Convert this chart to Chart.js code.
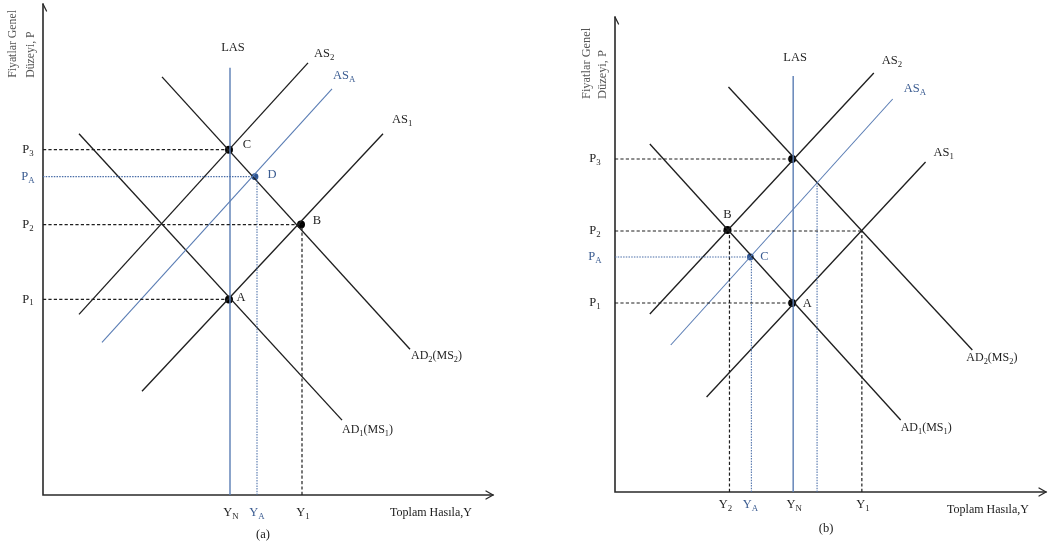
<!DOCTYPE html>
<html><head><meta charset="utf-8">
<script src="https://cdn.jsdelivr.net/npm/chart.js"></script>
<style>
html,body{margin:0;padding:0;background:#fff;}
#wrap{position:relative;width:1050px;height:546px;overflow:hidden;background:#fff;}
.pane{position:absolute;top:0;height:546px;}
</style></head><body>
<div id="wrap">
<div class="pane" style="left:0;width:520px"><canvas id="ca" width="520" height="546"></canvas></div>
<div class="pane" style="left:520px;width:530px"><canvas id="cb" width="530" height="546"></canvas></div>
</div>
<script>
// ================= DATA : panel (a) =================
const aAxisMax = [450, 492];              // extent of Y axis (x) and P axis (y)
const aLAS = [[187, 0], [187, 428]];
const aAS2 = [[36, 181], [265, 433]];
const aASA = [[59, 153], [289, 407]];
const aAS1 = [[99, 104], [340, 362]];
const aAD2 = [[119, 419], [367, 146]];
const aAD1 = [[36, 362], [299, 75]];
const aPoints = [[186, 196], [258, 271], [186, 346], [212, 319]];
const aPointNames = ['A', 'B', 'C', 'D'];
const aPriceNames = ['P_3', 'P_A', 'P_2', 'P_1'];
const aPriceValues = [346, 319, 271, 196];
const aPriceEnds = [186, 212, 258, 186];
const aOutputNames = ['Y_N', 'Y_A', 'Y_1'];
const aOutputValues = [188, 214, 260];
const aVGuideX = [214, 259];
const aVGuideTop = [319, 271];

// ================= DATA : panel (b) =================
const bAxisMax = [433, 475];
const bLAS = [[179, 0], [179, 416]];
const bAS2 = [[35, 178], [260, 419]];
const bASA = [[56, 147], [279, 393]];
const bAS1 = [[92, 95], [312, 330]];
const bAD2 = [[114, 405], [359, 142]];
const bAD1 = [[35, 348], [287, 72]];
const bPoints = [[178, 333], [113, 262], [136, 235], [178, 189]];
const bPointNames = ['', 'B', 'C', 'A'];
const bPriceNames = ['P_3', 'P_2', 'P_A', 'P_1'];
const bPriceValues = [333, 261, 235, 189];
const bPriceEnds = [178, 248, 136, 178];
const bOutputNames = ['Y_2', 'Y_A', 'Y_N', 'Y_1'];
const bOutputValues = [111, 136, 180, 249];
const bVGuideX = [115, 137, 203, 248];
const bVGuideTop = [261, 235, 309, 261];

const curveNames = ['LAS', 'AS_2', 'AS_A', 'AS_1', 'AD_2(MS_2)', 'AD_1(MS_1)'];
const yTitle = ['Fiyatlar Genel', 'Düzeyi, P'];
const xTitle = 'Toplam Hasıla,Y';

// ================= STYLE =================
const FONT = '"Liberation Serif", "DejaVu Serif", serif';
const BLACK = '#1f1f1f', BLUE_LINE = '#5a7db4', BLUE_GUIDE = '#4a6ea8', BLUE_TEXT = '#3b5c91', BLUE_DOT = '#2e5593';
const curveColors = [BLUE_LINE, BLACK, BLUE_LINE, BLACK, BLACK, BLACK];
const curveWidths = [1.4, 1.35, 1.1, 1.35, 1.35, 1.35];
const curveLabelColors = [BLACK, BLACK, BLUE_TEXT, BLACK, BLACK, BLACK];

const styleA = {
  pad: {left: 43, top: 3, right: 27, bottom: 51},
  curveLabel: [['center', 3, -20], ['left', 6, -9], ['left', 1, -13], ['left', 9, -14], ['left', 1, 7], ['left', 0, 10]],
  pointLabel: [[12, -2], [16, -4], [18, -5], [17, -2]],
  pointBlue: [false, false, false, true],
  vGuideBlue: [true, false],
  tickDy: 18, priceDx: -15,
  xTitlePos: [-62, 18], panelTag: ['(a)', 220, 40],
  yTitlePos: [[-30, 418, 11.8], [-12, 418, 11.8]]
};
const styleB = {
  pad: {left: 95, top: 17, right: 2, bottom: 54},
  curveLabel: [['center', 2, -18], ['left', 8, -12], ['left', 11, -10], ['left', 8, -9], ['left', -6, 8], ['left', 0, 8]],
  pointLabel: [[0, 0], [0, -15], [14, 0], [15, 1]],
  pointBlue: [false, false, true, false],
  vGuideBlue: [false, true, true, false],
  tickDy: 13, priceDx: -20,
  xTitlePos: [-58, 18], panelTag: ['(b)', 212, 37],
  yTitlePos: [[-28, 393, 12.4], [-12, 393, 12.4]]
};

// ================= HELPERS =================
function parseRich(str) {
  const segs = []; let cur = '';
  for (let i = 0; i < str.length; i++) {
    if (str[i] === '_' && i + 1 < str.length) {
      if (cur) { segs.push({t: cur, sub: false}); cur = ''; }
      segs.push({t: str[i + 1], sub: true}); i++;
    } else cur += str[i];
  }
  if (cur) segs.push({t: cur, sub: false});
  return segs;
}
function drawRich(ctx, str, x, y, size, color, align) {
  const segs = parseRich(str);
  const mf = size + 'px ' + FONT, sf = (size * 0.7).toFixed(1) + 'px ' + FONT;
  let w = 0;
  segs.forEach(s => { ctx.font = s.sub ? sf : mf; s.w = ctx.measureText(s.t).width; w += s.w; });
  let cx = align === 'center' ? x - w / 2 : (align === 'right' ? x - w : x);
  ctx.save();
  ctx.textAlign = 'left'; ctx.textBaseline = 'middle'; ctx.fillStyle = color;
  segs.forEach(s => { ctx.font = s.sub ? sf : mf; ctx.fillText(s.t, cx, s.sub ? y + size * 0.3 : y); cx += s.w; });
  ctx.restore();
}
const seg = p => p.map(q => ({x: q[0], y: q[1]}));

function buildPanel(id, d, st) {
  const datasets = [];
  d.priceValues.forEach((v, i) => {
    const blue = d.priceNames[i].indexOf('_A') >= 0;
    datasets.push({data: [{x: 0, y: v}, {x: d.priceEnds[i], y: v}], showLine: true, pointRadius: 0,
      borderColor: blue ? BLUE_GUIDE : BLACK, borderWidth: blue ? 1.05 : 1.2,
      borderDash: blue ? [1.5, 1.2] : [3.2, 2.2], clip: false});
  });
  d.vGuideX.forEach((x, i) => {
    const blue = st.vGuideBlue[i];
    datasets.push({data: [{x: x, y: 0}, {x: x, y: d.vGuideTop[i]}], showLine: true, pointRadius: 0,
      borderColor: blue ? BLUE_GUIDE : BLACK, borderWidth: blue ? 1.05 : 1.2,
      borderDash: blue ? [1.5, 1.2] : [3.2, 2.2], clip: false});
  });
  d.curves.forEach((c, i) => {
    datasets.push({data: seg(c), showLine: true, pointRadius: 0, borderColor: curveColors[i],
      borderWidth: curveWidths[i], clip: false});
  });
  datasets.push({data: seg(d.points), showLine: false, pointRadius: d.points.map((p, i) => st.pointBlue[i] ? 3.4 : 4),
    pointBackgroundColor: d.points.map((p, i) => st.pointBlue[i] ? BLUE_DOT : '#000'),
    pointBorderWidth: 0, clip: false});

  const deco = {
    id: 'deco' + id,
    beforeDatasetsDraw(chart) {
      const ctx = chart.ctx, xs = chart.scales.x, ys = chart.scales.y;
      const x0 = xs.getPixelForValue(0), y0 = ys.getPixelForValue(0);
      const xE = xs.getPixelForValue(d.axisMax[0]), yT = ys.getPixelForValue(d.axisMax[1]);
      ctx.save();
      ctx.strokeStyle = '#2a2a2a'; ctx.lineWidth = 1.6; ctx.lineCap = 'round';
      ctx.beginPath(); ctx.moveTo(x0, yT); ctx.lineTo(x0, y0); ctx.lineTo(xE, y0); ctx.stroke();
      ctx.lineWidth = 1.3;
      ctx.beginPath(); ctx.moveTo(xE - 7, y0 - 4); ctx.lineTo(xE, y0); ctx.lineTo(xE - 7, y0 + 4); ctx.stroke();
      ctx.beginPath(); ctx.moveTo(x0, yT); ctx.lineTo(x0 + 3.5, yT + 7); ctx.stroke();
      ctx.restore();
    },
    afterDatasetsDraw(chart) {
      const ctx = chart.ctx, xs = chart.scales.x, ys = chart.scales.y;
      const px = v => xs.getPixelForValue(v), py = v => ys.getPixelForValue(v);
      const x0 = px(0), y0 = py(0), xE = px(d.axisMax[0]);
      d.curves.forEach((c, i) => {
        const L = st.curveLabel[i];
        drawRich(ctx, curveNames[i], px(c[1][0]) + L[1], py(c[1][1]) + L[2], curveNames[i].length > 5 ? 12 : 12.5, curveLabelColors[i], L[0]);
      });
      d.points.forEach((p, i) => {
        if (!d.pointNames[i]) return;
        const o = st.pointLabel[i];
        drawRich(ctx, d.pointNames[i], px(p[0]) + o[0], py(p[1]) + o[1], 12.5, st.pointBlue[i] ? BLUE_TEXT : BLACK, 'center');
      });
      d.priceNames.forEach((n, i) => {
        drawRich(ctx, n, x0 + st.priceDx, py(d.priceValues[i]), 12.5, n.indexOf('_A') >= 0 ? BLUE_TEXT : BLACK, 'center');
      });
      d.outputNames.forEach((n, i) => {
        drawRich(ctx, n, px(d.outputValues[i]), y0 + st.tickDy, 12.5, n.indexOf('_A') >= 0 ? BLUE_TEXT : BLACK, 'center');
      });
      drawRich(ctx, xTitle, xE + st.xTitlePos[0], y0 + st.xTitlePos[1], 12, '#1a1a1a', 'center');
      drawRich(ctx, st.panelTag[0], px(st.panelTag[1]), y0 + st.panelTag[2], 12.5, '#1a1a1a', 'center');
      yTitle.forEach((t, i) => {
        const P = st.yTitlePos[i];
        ctx.save();
        ctx.translate(x0 + P[0], py(P[1]));
        ctx.rotate(-Math.PI / 2);
        ctx.font = P[2] + 'px ' + FONT; ctx.fillStyle = '#555'; ctx.textAlign = 'left'; ctx.textBaseline = 'middle';
        ctx.fillText(t, 0, 0);
        ctx.restore();
      });
    }
  };

  return new Chart(document.getElementById(id), {
    type: 'scatter',
    data: {datasets},
    options: {
      responsive: false, animation: false,
      layout: {padding: st.pad},
      plugins: {legend: {display: false}, tooltip: {enabled: false}},
      elements: {line: {tension: 0}},
      scales: {
        x: {type: 'linear', min: 0, max: d.axisMax[0], display: false},
        y: {type: 'linear', min: 0, max: d.axisMax[1], display: false}
      }
    },
    plugins: [deco]
  });
}

buildPanel('ca', {
  axisMax: aAxisMax, curves: [aLAS, aAS2, aASA, aAS1, aAD2, aAD1], points: aPoints, pointNames: aPointNames,
  priceNames: aPriceNames, priceValues: aPriceValues, priceEnds: aPriceEnds,
  outputNames: aOutputNames, outputValues: aOutputValues, vGuideX: aVGuideX, vGuideTop: aVGuideTop
}, styleA);
buildPanel('cb', {
  axisMax: bAxisMax, curves: [bLAS, bAS2, bASA, bAS1, bAD2, bAD1], points: bPoints, pointNames: bPointNames,
  priceNames: bPriceNames, priceValues: bPriceValues, priceEnds: bPriceEnds,
  outputNames: bOutputNames, outputValues: bOutputValues, vGuideX: bVGuideX, vGuideTop: bVGuideTop
}, styleB);
</script>
</body></html>
